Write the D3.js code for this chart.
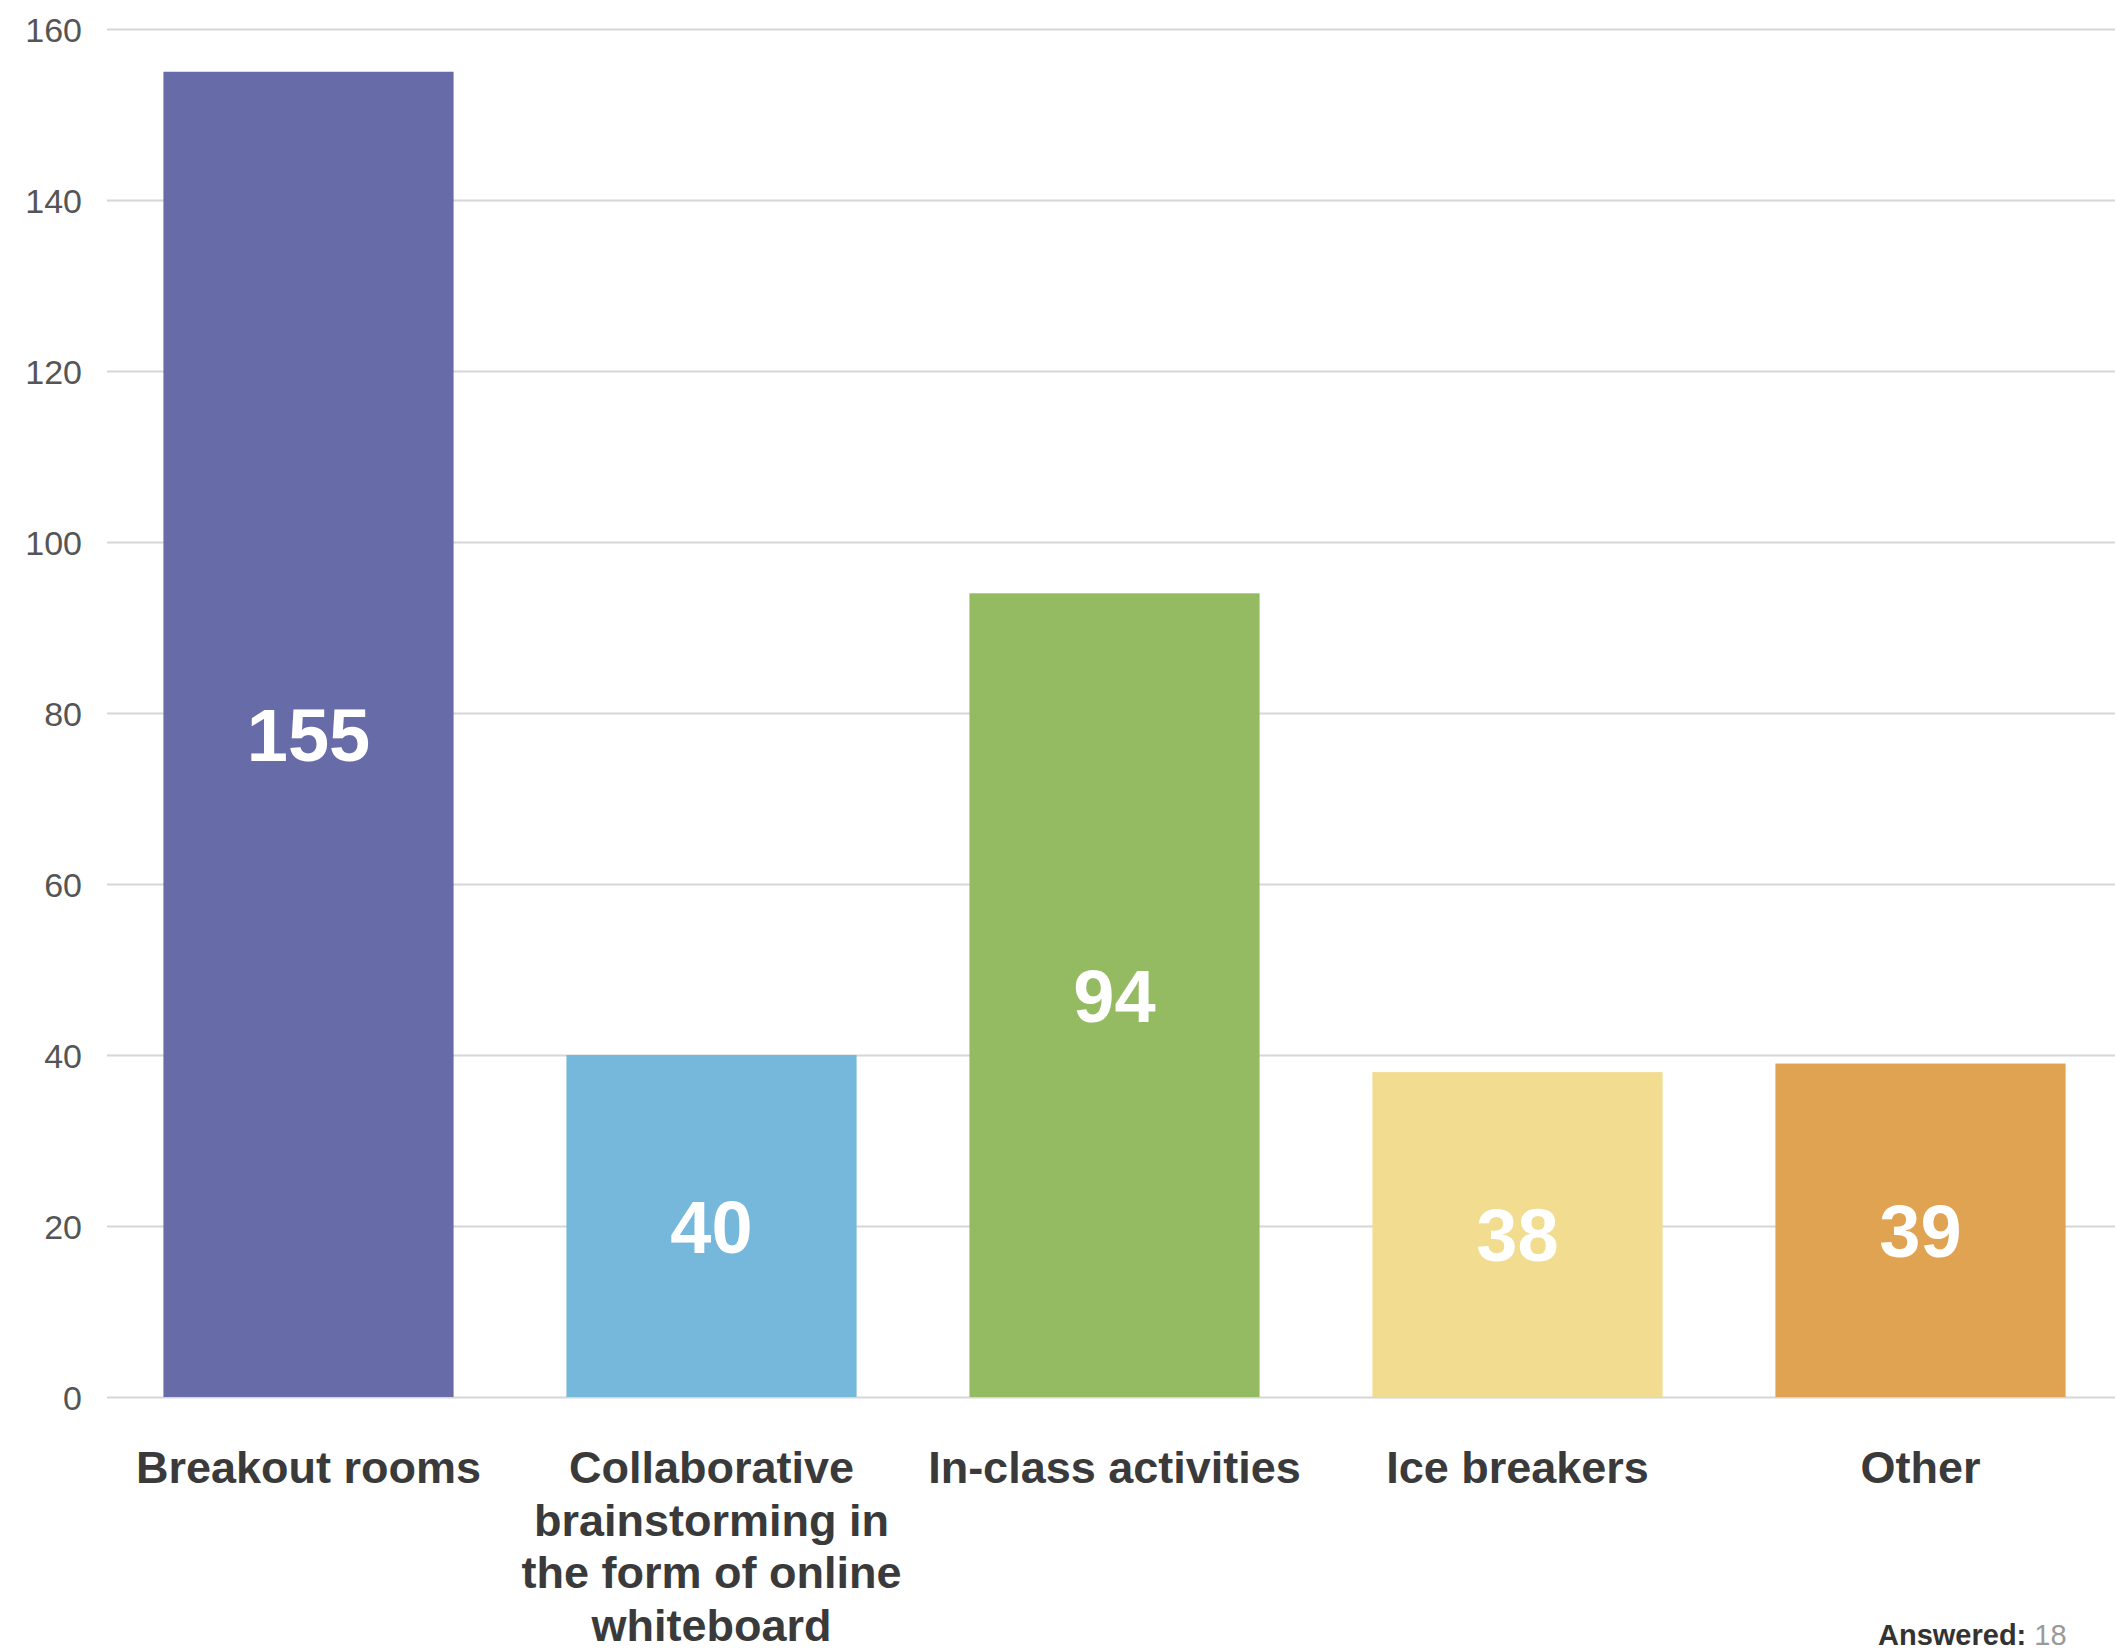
<!DOCTYPE html>
<html>
<head>
<meta charset="utf-8">
<script src="https://cdn.jsdelivr.net/npm/d3@7"></script>
<style>
  html, body { margin: 0; padding: 0; background: #ffffff; }
  svg { display: block; }
</style>
</head>
<body>
<svg id="chart" width="2115" height="1652"></svg>
<script>
// ---- data ----
const categories = [
  "Breakout rooms",
  "Collaborative brainstorming in the form of online whiteboard",
  "In-class activities",
  "Ice breakers",
  "Other"
];
const values = [155, 40, 94, 38, 39];
const colors = ["#676ca8", "#76b7dc", "#95bb62", "#f2dc8f", "#e0a352"];
const yTicks = [0, 20, 40, 60, 80, 100, 120, 140, 160];
const answeredLabel = "Answered:";
const answeredValue = "18";

// ---- layout ----
const W = 2115, H = 1652;
const plotLeft = 107, plotRight = 2122, plotTop = 29, plotBottom = 1397;
const FONT = "'Liberation Sans', Arial, Helvetica, sans-serif";

const svg = d3.select("#chart");

const x = d3.scaleBand()
  .domain(categories)
  .range([plotLeft, plotRight])
  .paddingInner(0.28)
  .paddingOuter(0.14);

const y = d3.scaleLinear()
  .domain([0, 160])
  .range([plotBottom, plotTop]);

// gridlines + y labels
const yAxis = d3.axisLeft(y)
  .tickValues(yTicks)
  .tickSize(-(plotRight - plotLeft))
  .tickPadding(25)
  .tickFormat(d3.format("d"));

const gy = svg.append("g")
  .attr("transform", `translate(${plotLeft},0)`)
  .call(yAxis);
gy.select(".domain").remove();
gy.selectAll(".tick line")
  .attr("stroke", "#d6d6d6")
  .attr("stroke-width", 2);
gy.selectAll(".tick text")
  .attr("font-family", FONT)
  .attr("font-size", 34)
  .attr("fill", "#555555")
  .attr("dy", "0.36em");

// bars
svg.append("g").selectAll("rect")
  .data(values)
  .join("rect")
  .attr("x", (d, i) => x(categories[i]))
  .attr("y", d => y(d))
  .attr("width", x.bandwidth())
  .attr("height", d => y(0) - y(d))
  .attr("fill", (d, i) => colors[i]);

// value labels
svg.append("g").selectAll("text")
  .data(values)
  .join("text")
  .attr("x", (d, i) => x(categories[i]) + x.bandwidth() / 2)
  .attr("y", d => (y(d) + y(0)) / 2)
  .attr("dy", "0.36em")
  .attr("text-anchor", "middle")
  .attr("font-family", FONT)
  .attr("font-weight", "bold")
  .attr("font-size", 74)
  .attr("fill", "#ffffff")
  .text(d => d);

// category labels (wrapped)
const catG = svg.append("g");
const maxW = 400, lineH = 52.5, firstBaseline = 1483;
categories.forEach((c, i) => {
  const t = catG.append("text")
    .attr("text-anchor", "middle")
    .attr("font-family", FONT)
    .attr("font-weight", "bold")
    .attr("font-size", 45)
    .attr("fill", "#3a3a3a");
  const cx = x(c) + x.bandwidth() / 2;
  const words = c.split(" ");
  let line = [];
  let lineNo = 0;
  let ts = t.append("tspan").attr("x", cx).attr("y", firstBaseline);
  words.forEach(w => {
    line.push(w);
    ts.text(line.join(" "));
    if (ts.node().getComputedTextLength() > maxW && line.length > 1) {
      line.pop();
      ts.text(line.join(" "));
      line = [w];
      lineNo++;
      ts = t.append("tspan").attr("x", cx).attr("y", firstBaseline + lineNo * lineH).text(w);
    }
  });
});

// Answered footnote
const ans = svg.append("text")
  .attr("x", 1878)
  .attr("y", 1645)
  .attr("font-family", FONT)
  .attr("font-size", 29);
ans.append("tspan").attr("font-weight", "bold").attr("fill", "#333333").text(answeredLabel + " ");
ans.append("tspan").attr("fill", "#9a9a9a").text(answeredValue);
</script>
</body>
</html>
